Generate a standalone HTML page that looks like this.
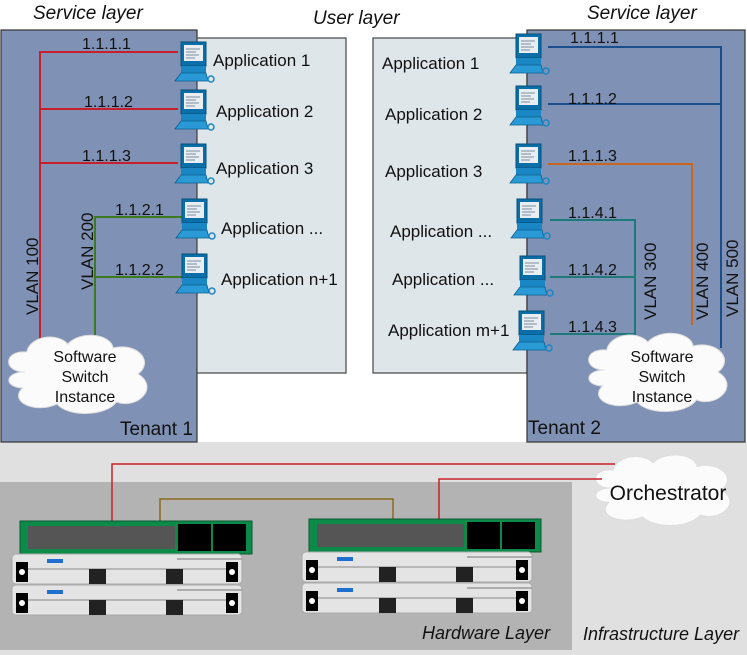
<!DOCTYPE html>
<html><head><meta charset="utf-8"><style>
html,body{margin:0;padding:0;background:#fff}
svg{display:block;font-family:"Liberation Sans",sans-serif}
</style></head><body>
<svg width="747" height="655" viewBox="0 0 747 655" xmlns="http://www.w3.org/2000/svg">
<defs>
<g id="pc">
  <rect x="6" y="0" width="25" height="24" fill="#0a6fa8" stroke="#05507a" stroke-width="1"/>
  <rect x="9" y="3" width="19" height="16" fill="#e8eef2"/>
  <path d="M11 7h14M11 10h10M11 13h13M11 16h9" stroke="#7a8fa0" stroke-width="1"/>
  <rect x="6" y="24" width="25" height="7" fill="#1a86c4"/>
  <path d="M6 31 L0 39 L33 39 L31 31 Z" fill="#2a9ad6" stroke="#0a5f90" stroke-width="0.8"/>
  <circle cx="36" cy="37" r="3" fill="none" stroke="#1a86c4" stroke-width="1.5"/>
</g>
<g id="cloud">
  <path d="M20 40 C0 40 0 18 22 20 C25 4 50 0 60 12 C72 -2 100 2 102 16 C125 10 140 30 125 42 C145 55 125 78 105 70 C95 85 60 85 50 72 C30 82 5 70 18 56 C0 55 2 40 20 40 Z" fill="#fbfbfb" stroke="#ddd"/>
</g>
<g id="server">
  <rect x="0" y="0" width="230" height="30" rx="4" fill="#e4e4e4" stroke="#aaa"/>
  <rect x="4" y="8" width="12" height="20" fill="#000"/><circle cx="10" cy="18" r="3" fill="#fff"/>
  <rect x="214" y="8" width="12" height="20" fill="#000"/><circle cx="220" cy="18" r="3" fill="#fff"/>
  <line x1="16" y1="15" x2="214" y2="15" stroke="#888"/>
  <rect x="77" y="15" width="17" height="15" fill="#222"/><rect x="154" y="15" width="17" height="15" fill="#222"/>
  <rect x="35" y="5" width="16" height="4" fill="#1f6fd0"/>
  <line x1="165" y1="5" x2="230" y2="5" stroke="#999" stroke-width="1.5"/>
</g>
</defs>
<rect x="0" y="442" width="747" height="213" fill="#e0e0e0"/>
<rect x="0" y="482" width="572" height="168" fill="#b3b3b3"/>

<rect x="1" y="30" width="196" height="412" fill="#7f91b4" stroke="#333" stroke-width="1.2"/>
<rect x="197" y="38" width="149" height="335" fill="#dfe6e9" stroke="#444" stroke-width="1.2"/>
<rect x="373" y="38" width="154" height="335" fill="#dfe6e9" stroke="#444" stroke-width="1.2"/>
<rect x="527" y="30" width="218" height="412" fill="#7f91b4" stroke="#333" stroke-width="1.2"/>

<g font-size="19" font-style="italic" fill="#111">
<text x="33" y="19">Service layer</text>
<text x="313" y="24">User layer</text>
<text x="587" y="19">Service layer</text>
<text x="422" y="639" font-size="18">Hardware Layer</text>
<text x="583" y="640" font-size="18">Infrastructure Layer</text>
</g>

<g fill="none" stroke-width="2">
<path d="M40 345 V52 H178 M40 109 H178 M40 163 H178" stroke="#c8202a"/>
<path d="M95 345 V217 H182 M95 277 H182" stroke="#3c7a1e"/>
<path d="M548 47 H721 V348 M548 104 H721" stroke="#1a4f8c"/>
<path d="M548 164 H692 V325" stroke="#c8651e"/>
<path d="M550 220 H635 V345 M550 277 H635 M550 334 H635" stroke="#1e7a7a"/>
</g>
<g font-size="16" fill="#111">
<text x="82" y="49">1.1.1.1</text>
<text x="84" y="107">1.1.1.2</text>
<text x="82" y="161">1.1.1.3</text>
<text x="115" y="215">1.1.2.1</text>
<text x="115" y="275">1.1.2.2</text>
<text x="570" y="43">1.1.1.1</text>
<text x="568" y="104">1.1.1.2</text>
<text x="568" y="161">1.1.1.3</text>
<text x="568" y="218">1.1.4.1</text>
<text x="568" y="275">1.1.4.2</text>
<text x="568" y="332">1.1.4.3</text>
<text transform="translate(38,315) rotate(-90)" font-size="17">VLAN 100</text>
<text transform="translate(93,290) rotate(-90)" font-size="17">VLAN 200</text>
<text transform="translate(656,320) rotate(-90)" font-size="17">VLAN 300</text>
<text transform="translate(708,320) rotate(-90)" font-size="17">VLAN 400</text>
<text transform="translate(738,317) rotate(-90)" font-size="17">VLAN 500</text>
</g>
<g font-size="17" fill="#111">
<text x="213" y="66">Application 1</text>
<text x="216" y="117">Application 2</text>
<text x="216" y="174">Application 3</text>
<text x="221" y="234">Application ...</text>
<text x="221" y="285">Application n+1</text>
<text x="382" y="69">Application 1</text>
<text x="385" y="120">Application 2</text>
<text x="385" y="177">Application 3</text>
<text x="390" y="237">Application ...</text>
<text x="392" y="285">Application ...</text>
<text x="388" y="336">Application m+1</text>
<text x="120" y="435" font-size="19">Tenant 1</text>
<text x="528" y="434" font-size="19">Tenant 2</text>
</g>

<use href="#pc" x="175" y="42"/>
<use href="#pc" x="175" y="90"/>
<use href="#pc" x="175" y="144"/>
<use href="#pc" x="176" y="199"/>
<use href="#pc" x="176" y="254"/>
<use href="#pc" x="510" y="34"/>
<use href="#pc" x="510" y="86"/>
<use href="#pc" x="510" y="144"/>
<use href="#pc" x="511" y="199"/>
<use href="#pc" x="514" y="256"/>
<use href="#pc" x="513" y="311"/>

<use href="#cloud" transform="translate(3,332) scale(1.08,1.0)"/>
<use href="#cloud" transform="translate(583,330) scale(1.08,1.0)"/>
<g font-size="16" fill="#111" text-anchor="middle">
<text x="85" y="362">Software</text><text x="85" y="382">Switch</text><text x="85" y="402">Instance</text>
<text x="662" y="362">Software</text><text x="662" y="382">Switch</text><text x="662" y="402">Instance</text>
</g>

<use href="#cloud" transform="translate(590,452) scale(1.05,0.9)"/>
<text x="668" y="500" font-size="21" text-anchor="middle" fill="#111">Orchestrator</text>
<g fill="none" stroke-width="1.5">
<path d="M112 521 V464 H615" stroke="#c8202a"/>
<path d="M439 519 V479 H602" stroke="#c8202a"/>
<path d="M160 521 V499 H393 V519" stroke="#8a6a1e"/>
</g>

<g>
<rect x="20" y="521" width="232" height="33" fill="#0c8a4a" stroke="#0a5a30"/>
<rect x="28" y="526" width="147" height="23" fill="#555"/>
<rect x="178" y="524" width="33" height="27" fill="#000"/><rect x="213" y="524" width="33" height="27" fill="#000"/>
<rect x="309" y="519" width="232" height="33" fill="#0c8a4a" stroke="#0a5a30"/>
<rect x="317" y="524" width="147" height="23" fill="#555"/>
<rect x="467" y="522" width="33" height="27" fill="#000"/><rect x="502" y="522" width="33" height="27" fill="#000"/>
</g>
<use href="#server" x="12" y="554"/>
<use href="#server" x="12" y="585"/>
<use href="#server" x="302" y="552"/>
<use href="#server" x="302" y="583"/>
</svg>
</body></html>
